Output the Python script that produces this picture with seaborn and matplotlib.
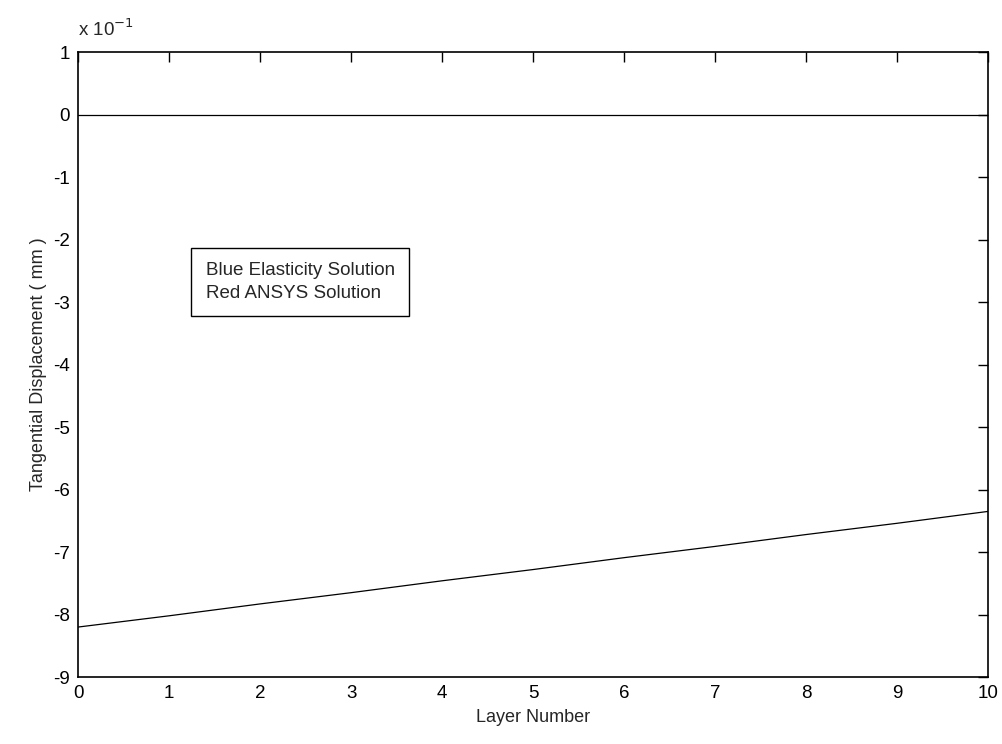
import numpy as np
import pandas as pd
import matplotlib
matplotlib.use("Agg")
import matplotlib.pyplot as plt
import seaborn as sns

# values in units of 10^-1 mm
layers = [0, 1, 2, 3, 4, 5, 6, 7, 8, 9, 10]
elasticity = [0, 0, 0, 0, 0, 0, 0, 0, 0, 0, 0]
ansys = [-8.20, -8.02, -7.83, -7.65, -7.46, -7.28, -7.09, -6.91, -6.72, -6.54, -6.35]

xticks = list(range(0, 11))
yticks = list(range(-9, 2))

sns.set_style("white")
plt.rcParams["font.family"] = ["Liberation Sans", "DejaVu Sans"]
plt.rcParams["axes.unicode_minus"] = False

data = pd.DataFrame({"Layer": layers, "Elasticity": elasticity, "ANSYS": ansys})

fig = plt.figure(figsize=(10.02, 7.44), dpi=100)
ax = fig.add_axes([0.078, 0.090, 0.908, 0.840])

sns.lineplot(data=data, x="Layer", y="Elasticity", ax=ax, color="black", linewidth=0.9)
sns.lineplot(data=data, x="Layer", y="ANSYS", ax=ax, color="black", linewidth=0.9)

ax.set_xlim(0, 10)
ax.set_ylim(-9, 1)
ax.set_xticks(xticks)
ax.set_yticks(yticks)
ax.tick_params(direction="in", length=7, width=1, top=True, right=True,
               labelsize=13.5, colors="black", pad=6)
for s in ax.spines.values():
    s.set_color("black")
    s.set_linewidth(1.2)

ax.set_xlabel("Layer Number", fontsize=13, labelpad=5)
ax.set_ylabel("Tangential Displacement ( mm )", fontsize=13, labelpad=4)

ax.text(0.0, 1.02, "x 10$^{-1}$", transform=ax.transAxes, fontsize=13.5,
        ha="left", va="bottom")

ax.text(0.14, 0.632, "Blue Elasticity Solution\nRed ANSYS Solution",
        transform=ax.transAxes, fontsize=13.5, ha="left", va="center",
        linespacing=1.5,
        bbox=dict(boxstyle="square,pad=0.75", facecolor="white", edgecolor="black", linewidth=1))

fig.savefig("out.png", dpi=100)
plt.close()
